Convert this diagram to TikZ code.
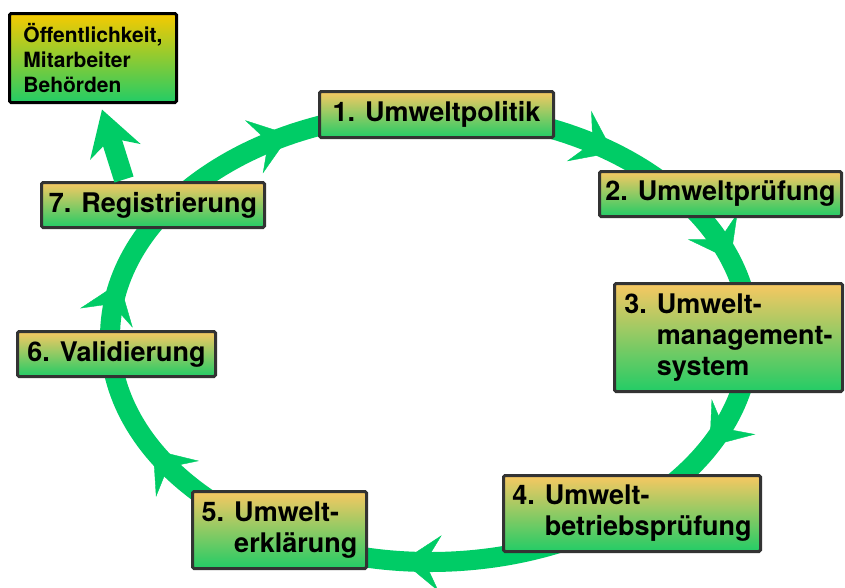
\documentclass[tikz,border=0pt]{standalone}
\usepackage{fontspec}
\setmainfont{TeX Gyre Heros}
\usetikzlibrary{arrows.meta,decorations.markings}
\definecolor{ringGruen}{HTML}{00CC66}
\definecolor{kastenOrange}{HTML}{F8C862}
\definecolor{kastenGruen}{HTML}{22CC66}
\definecolor{kastenGelb}{HTML}{F7CA00}
\definecolor{randGrau}{HTML}{333333}

\begin{document}
\begin{tikzpicture}[x=1pt,y=-1pt,
  kasten/.style={draw=randGrau,line width=3pt,rounded corners=1.5pt,top color=kastenOrange,bottom color=kastenGruen,align=left,inner sep=0pt,font=\bfseries\fontsize{27}{31}\selectfont},
  ring/.style={draw=ringGruen,line width=20pt},
  pfeil/.style={ringGruen,line width=20pt,-{Stealth[length=44pt,width=52pt,inset=14pt]}}]
\useasboundingbox (0,0) rectangle (845,587);
\def\cx{430}\def\cy{337}\def\rx{320}\def\ry{225}
% Kreislauf mit Pfeilspitzen
\draw[ring] (\cx,\cy) ellipse [x radius=320pt,y radius=225pt];
\foreach \w in {244,305,340,29,95,150,194}
  \path[decoration={markings,mark=at position 0.5 with {\arrow{Stealth[length=38pt,width=56pt,inset=15pt,color=ringGruen]}}},decorate]
    plot[domain=\w-5:\w+5,samples=11] ({\cx+\rx*cos(\x)},{\cy+\ry*sin(\x)});
% Kaesten
\node[kasten,top color=kastenGelb,draw=black,minimum width=167pt,minimum height=89pt,font=\bfseries\fontsize{21}{25}\selectfont] (oeff) at (93,58) {Öffentlichkeit,\\Mitarbeiter\\Behörden};
\node[kasten,minimum width=234pt,minimum height=46pt] (politik) at (436.5,114.5) {1. Umweltpolitik};
\node[kasten,minimum width=242pt,minimum height=45pt] (pruefung) at (720.5,194) {2. Umweltprüfung};
\node[kasten,minimum width=228pt,minimum height=108pt] (system) at (728.5,337.5) {3. Umwelt-\\\hphantom{3. }management-\\\hphantom{3. }system};
\node[kasten,minimum width=257pt,minimum height=76pt] (betrieb) at (632,513.5) {4. Umwelt-\\\hphantom{4. }betriebsprüfung};
\node[kasten,minimum width=174pt,minimum height=77pt] (erklaerung) at (279.5,530) {5. Umwelt-\\\hphantom{5. }erklärung};
\node[kasten,minimum width=198pt,minimum height=45pt] (valid) at (116.5,354) {6. Validierung};
\node[kasten,minimum width=223pt,minimum height=45pt] (reg) at (153,205) {7. Registrierung};
% Weitergabe nach aussen
\draw[pfeil] ([xshift=-29pt,yshift=1.5pt]reg.north) -- ([xshift=9pt,yshift=-5.5pt]oeff.south);
\end{tikzpicture}
\end{document}
